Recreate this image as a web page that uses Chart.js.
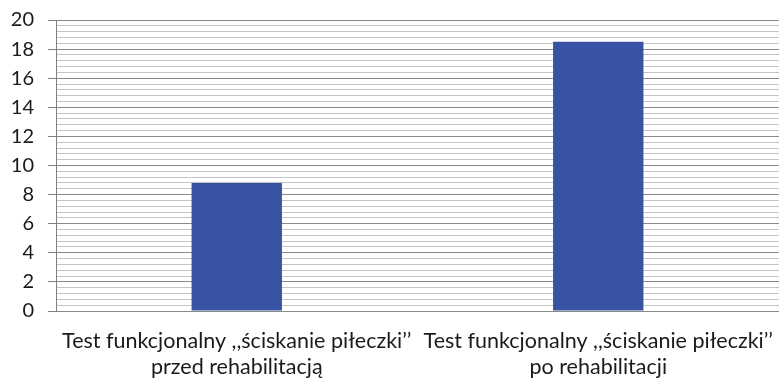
<!DOCTYPE html>
<html>
<head>
<meta charset="utf-8">
<script src="https://cdn.jsdelivr.net/npm/chart.js@4/dist/chart.umd.min.js"></script>
<style>
  html, body { margin: 0; padding: 0; background: #ffffff; }
  #wrap { width: 779px; height: 378px; position: relative; }
</style>
</head>
<body>
<div id="wrap"><canvas id="c"></canvas></div>
<script>
// Grip test results (ball squeeze), before and after rehabilitation
const categories = [
  ['Test funkcjonalny ,,ściskanie piłeczki’’', 'przed rehabilitacją'],
  ['Test funkcjonalny ,,ściskanie piłeczki’’', 'po rehabilitacji']
];
const values = [8.8, 18.5];
const yMin = 0;
const yMax = 20;
const majorStep = 2;
const minorStep = 0.4;

const isMajor = v => Math.round(v * 10) % (majorStep * 10) === 0;

// keep the plot area fixed regardless of label overflow
const noPad = s => {
  s.paddingLeft = 0; s.paddingRight = 0; s.paddingTop = 0; s.paddingBottom = 0;
};

new Chart(document.getElementById('c'), {
  type: 'bar',
  data: {
    labels: categories,
    datasets: [{
      data: values,
      backgroundColor: '#3953a4',
      borderWidth: 0,
      categoryPercentage: 0.5,
      barPercentage: 0.5
    }]
  },
  options: {
    responsive: true,
    maintainAspectRatio: false,
    animation: false,
    layout: { padding: { top: 20, right: 0, bottom: 0, left: 0 } },
    plugins: { legend: { display: false }, tooltip: { enabled: false } },
    scales: {
      x: {
        grid: { display: false },
        border: { display: false },
        ticks: {
          color: '#1a1a1a',
          font: { family: 'Lato', size: 21.5, lineHeight: 1.2 },
          padding: 9,
          maxRotation: 0,
          autoSkip: false
        },
        afterFit: s => { s.height = 67; noPad(s); }
      },
      y: {
        min: yMin,
        max: yMax,
        border: { display: true, color: '#7f7f7f', width: 1 },
        grid: {
          color: ctx => isMajor(ctx.tick.value) ? '#8a8a8a' : '#c4c4c4',
          lineWidth: 1,
          drawTicks: true,
          tickLength: 8,
          tickColor: ctx => isMajor(ctx.tick.value) ? '#7f7f7f' : 'rgba(0,0,0,0)'
        },
        ticks: {
          stepSize: minorStep,
          autoSkip: false,
          color: '#1a1a1a',
          font: { family: 'Lato', size: 20 },
          padding: 14,
          callback: v => isMajor(v) ? String(Math.round(v)) : ''
        },
        afterFit: s => { s.width = 56; noPad(s); }
      }
    }
  }
});
</script>
</body>
</html>
